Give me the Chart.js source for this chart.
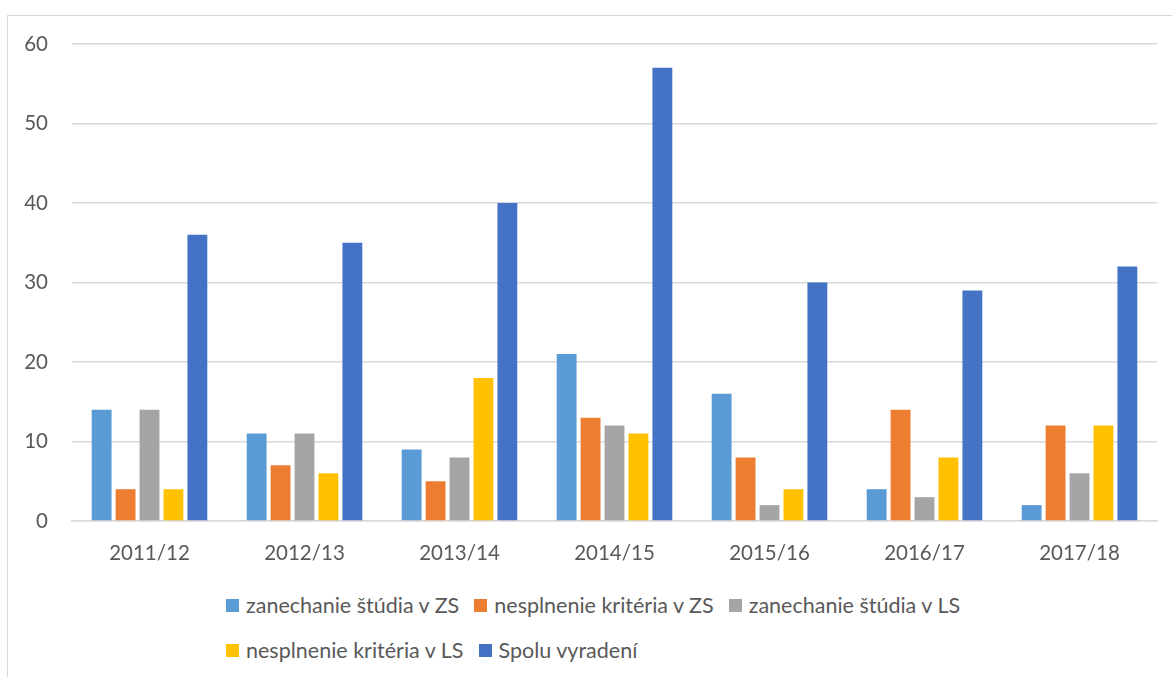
<!DOCTYPE html>
<html>
<head>
<meta charset="utf-8">
<script src="https://cdn.jsdelivr.net/npm/chart.js@4"></script>
<style>
  html, body { margin: 0; padding: 0; background: #fff; overflow: hidden; }
  body { width: 1172px; height: 677px; position: relative; font-family: Lato, 'Open Sans', sans-serif; }
  .frame { position: absolute; left: 7px; top: 15px; width: 1200px; height: 700px; border: 1px solid #d9d9d9; box-sizing: border-box; }
  .wrap { position: absolute; left: 0; top: 0; width: 1172px; height: 571px; }
  .legend { position: absolute; left: 226px; top: 593px; width: 790px; display: flex; flex-wrap: wrap; row-gap: 21px; column-gap: 15px; }
  .legend-item { display: flex; align-items: center; font-size: 21.5px; color: #595959; line-height: 24px; white-space: nowrap; }
  .legend-box { width: 13px; height: 13px; margin-right: 7px; }
</style>
</head>
<body>
<div class="frame"></div>
<div class="wrap"><canvas id="chart"></canvas></div>
<div class="legend" id="legend"></div>
<script>
const YEARS = ['2011/12', '2012/13', '2013/14', '2014/15', '2015/16', '2016/17', '2017/18'];
const SERIES_NAMES = [
  'zanechanie štúdia v ZS',
  'nesplnenie kritéria v ZS',
  'zanechanie štúdia v LS',
  'nesplnenie kritéria v LS',
  'Spolu vyradení',
];
const LEAVE_ZS = [14, 11, 9, 21, 16, 4, 2];
const FAIL_ZS = [4, 7, 5, 13, 8, 14, 12];
const LEAVE_LS = [14, 11, 8, 12, 2, 3, 6];
const FAIL_LS = [4, 6, 18, 11, 4, 8, 12];
const TOTAL = [36, 35, 40, 57, 30, 29, 32];
const COLORS = ['#5b9bd5', '#ed7d31', '#a5a5a5', '#ffc000', '#4472c4'];
const Y_MAX = 60;
const Y_STEP = 10;

const TEXT = '#595959';
const GRID = '#d9d9d9';
const FONT = { family: "Lato, 'Open Sans', sans-serif", size: 20.5 };

const values = [LEAVE_ZS, FAIL_ZS, LEAVE_LS, FAIL_LS, TOTAL];
const datasets = values.map((data, i) => ({
  label: SERIES_NAMES[i],
  data,
  backgroundColor: COLORS[i],
  borderWidth: 0,
  categoryPercentage: 0.772,
  barPercentage: 0.83,
}));

new Chart(document.getElementById('chart'), {
  type: 'bar',
  data: { labels: YEARS, datasets },
  options: {
    responsive: true,
    maintainAspectRatio: false,
    animation: false,
    layout: { padding: { left: 0, right: 15, top: 44, bottom: 0 } },
    plugins: { legend: { display: false }, tooltip: { enabled: false } },
    scales: {
      x: {
        grid: { display: false, drawTicks: false },
        border: { color: GRID, width: 1.5 },
        ticks: { color: TEXT, font: FONT, padding: 20, maxRotation: 0 },
        afterFit: (s) => { s.height = 50; },
      },
      y: {
        min: 0,
        max: Y_MAX,
        grid: { color: GRID, lineWidth: 1.5, drawTicks: false },
        border: { display: false },
        ticks: { stepSize: Y_STEP, color: TEXT, font: FONT, padding: 24 },
        afterFit: (s) => { s.width = 72; },
      },
    },
  },
});

// legend laid out like the Excel one: rows left-aligned in one block
const legend = document.getElementById('legend');
legend.innerHTML = SERIES_NAMES.map((name, i) => `
  <div class="legend-item"><span class="legend-box" style="background:${COLORS[i]}"></span>${name}</div>
`).join('');
</script>
</body>
</html>
